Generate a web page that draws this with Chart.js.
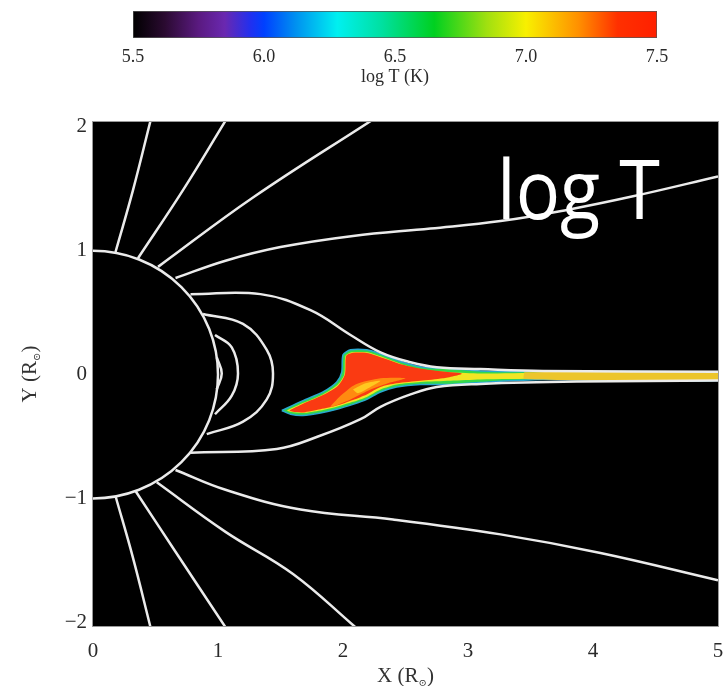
<!DOCTYPE html>
<html>
<head>
<meta charset="utf-8">
<script src="https://cdn.jsdelivr.net/npm/chart.js@4.4.0/dist/chart.umd.min.js"></script>
<style>
    html, body { margin: 0; padding: 0; background: #fff; }
    #wrap { position: relative; width: 723px; height: 686px; }
    #mapa { position: absolute; left: 0; top: 0; }
    #barra { position: absolute; left: 0; top: 0; }
</style>
</head>
<body>
<div id="wrap">
    <canvas id="mapa" width="723" height="686"></canvas>
    <canvas id="barra" width="723" height="100"></canvas>
</div>
<script>
// eixos
var ticksX = [0, 1, 2, 3, 4, 5];
var ticksY = [-2, -1, 0, 1, 2];
var raioSol = 1;

// escala de cor (log T)
var ticksEscala = [5.5, 6.0, 6.5, 7.0, 7.5];
var valoresEscala = [5.5, 5.62, 5.75, 5.85, 5.95, 6.0, 6.12, 6.28, 6.45, 6.65, 6.85, 7.0, 7.2, 7.35, 7.5];
var coresEscala = ["#000000", "#2a0a30", "#5a1a80", "#6a28b0", "#2030f0", "#0040ff", "#0090f0", "#00f0f0",
                   "#00e0a0", "#00d020", "#a0e010", "#f8f000", "#ff9000", "#ff3000", "#ff2000"];

// linhas de campo abertas (acima)
var linhaA = [[0.18, 0.99], [0.32, 1.49], [0.46, 2.05]];
var linhaB = [[0.36, 0.94], [0.72, 1.49], [1.06, 2.05]];
var linhaC = [[0.52, 0.87], [1.28, 1.43], [2.24, 2.06]];
var linhaD = [[0.66, 0.78], [1.06, 0.92], [1.50, 1.03], [2.08, 1.12], [2.70, 1.18], [3.26, 1.24], [3.79, 1.33], [4.32, 1.44], [5.0, 1.60]];
// linhas de campo abertas (abaixo)
var linhaA2 = [[0.18, -0.98], [0.32, -1.48], [0.46, -2.04]];
var linhaB2 = [[0.34, -0.94], [0.66, -1.43], [1.06, -2.04]];
var linhaC2 = [[0.51, -0.87], [1.06, -1.27], [1.60, -1.61], [2.10, -2.04]];
var linhaD2 = [[0.66, -0.77], [1.06, -0.93], [1.66, -1.09], [2.40, -1.17], [3.26, -1.29], [4.06, -1.44], [5.0, -1.66]];
// bordas do streamer
var linhaE = [[0.78, 0.65], [1.34, 0.65], [1.74, 0.52], [2.06, 0.32], [2.30, 0.18], [2.54, 0.10], [2.75, 0.06], [3.10, 0.045], [3.60, 0.03], [5.0, 0.024]];
var linhaF = [[0.78, -0.63], [1.47, -0.60], [1.80, -0.50], [2.14, -0.36], [2.30, -0.26], [2.54, -0.16], [2.75, -0.10], [3.10, -0.075], [3.87, -0.056], [5.0, -0.048]];
// arcos fechados
var arco1 = [[0.88, 0.49], [1.20, 0.41], [1.39, 0.20], [1.44, 0.01], [1.39, -0.20], [1.20, -0.38], [0.91, -0.48]];
var arco2 = [[0.976, 0.32], [1.11, 0.22], [1.16, 0.01], [1.11, -0.17], [0.976, -0.32]];
var arco3 = [[0.99, 0.14], [1.03, 0.01], [0.99, -0.12]];

// regiao quente
var bordaVerde = [[1.51, -0.29], [1.68, -0.21], [1.84, -0.14], [1.95, -0.06], [1.99, 0.02], [2.0, 0.16], [2.06, 0.20], [2.19, 0.20],
                  [2.32, 0.16], [2.48, 0.10], [2.64, 0.06], [2.86, 0.05], [3.10, 0.03], [3.60, 0.024], [5.0, 0.016],
                  [5.0, -0.048], [3.60, -0.04], [3.10, -0.063], [2.86, -0.08], [2.62, -0.08], [2.43, -0.10], [2.30, -0.14],
                  [2.19, -0.20], [2.08, -0.24], [1.95, -0.28], [1.82, -0.31], [1.68, -0.33], [1.58, -0.32], [1.51, -0.29]];
var miolоAmarelo = [[1.55, -0.29], [1.68, -0.23], [1.84, -0.16], [1.96, -0.08], [2.01, 0.0], [2.02, 0.15], [2.07, 0.18], [2.19, 0.18],
                    [2.32, 0.14], [2.48, 0.08], [2.64, 0.04], [2.86, 0.02], [3.10, 0.01], [3.60, 0.016], [5.0, 0.012],
                    [5.0, -0.044], [3.60, -0.034], [3.10, -0.04], [2.86, -0.05], [2.62, -0.06], [2.43, -0.08], [2.30, -0.12],
                    [2.19, -0.18], [2.08, -0.22], [1.95, -0.26], [1.82, -0.29], [1.68, -0.31], [1.58, -0.30], [1.55, -0.29]];
var caudaDourada = [[3.45, 0.02], [5.0, 0.014], [5.0, -0.045], [3.45, -0.036], [3.45, 0.02]];
var nucleoVermelho = [[1.57, -0.29], [1.68, -0.235], [1.84, -0.165], [1.96, -0.09], [2.015, 0.0], [2.025, 0.15], [2.07, 0.175],
                      [2.19, 0.175], [2.32, 0.135], [2.48, 0.08], [2.64, 0.045], [2.80, 0.025], [2.95, 0.008], [2.80, -0.03],
                      [2.62, -0.05], [2.43, -0.07], [2.30, -0.10], [2.19, -0.16], [2.08, -0.205], [1.95, -0.25],
                      [1.82, -0.28], [1.68, -0.305], [1.60, -0.30], [1.57, -0.29]];
var manchaLaranja = [[1.98, -0.17], [2.10, -0.08], [2.30, -0.03], [2.50, -0.03], [2.36, -0.07], [2.20, -0.13], [2.06, -0.20], [1.90, -0.26], [1.98, -0.17]];
var manchaAmarela = [[2.08, -0.12], [2.18, -0.07], [2.30, -0.05], [2.22, -0.10], [2.12, -0.15], [2.08, -0.12]];

function pontos(lista) {
    var saida = [];
    for (var i = 0; i < lista.length; i++) {
        saida.push({ x: lista[i][0], y: lista[i][1] });
    }
    return saida;
}

function linhaCampo(lista) {
    return {
        data: pontos(lista),
        showLine: true,
        pointRadius: 0,
        borderColor: "#ebebeb",
        borderWidth: 2.5,
        tension: 0.4,
        fill: false,
        order: 0
    };
}

function mancha(lista, cor, borda, largura, ordem) {
    return {
        data: pontos(lista),
        showLine: true,
        pointRadius: 0,
        borderColor: borda,
        borderWidth: largura,
        backgroundColor: cor,
        tension: 0.25,
        fill: "shape",
        order: ordem
    };
}

var fonteSerif = "'Liberation Serif', 'DejaVu Serif', serif";

function escreverTituloEixo(ctx, texto, x, y, girar) {
    ctx.save();
    ctx.translate(x, y);
    if (girar) ctx.rotate(-Math.PI / 2);
    ctx.fillStyle = "#333";
    ctx.textBaseline = "alphabetic";
    ctx.font = "21px " + fonteSerif;
    var w1 = ctx.measureText(texto).width;
    ctx.font = "10px " + fonteSerif;
    var w2 = ctx.measureText("\u2299").width;
    ctx.font = "21px " + fonteSerif;
    var w3 = ctx.measureText(")").width;
    var inicio = -(w1 + w2 + w3) / 2;
    ctx.textAlign = "left";
    ctx.fillText(texto, inicio, 0);
    ctx.font = "10px " + fonteSerif;
    ctx.fillText("\u2299", inicio + w1, 4);
    ctx.font = "21px " + fonteSerif;
    ctx.fillText(")", inicio + w1 + w2, 0);
    ctx.restore();
}

var pluginFundo = {
    id: "fundo",
    beforeDatasetsDraw: function (chart) {
        var ctx = chart.ctx;
        var area = chart.chartArea;
        var sx = chart.scales.x;
        var sy = chart.scales.y;
        ctx.save();
        ctx.fillStyle = "#000";
        ctx.fillRect(area.left, area.top, area.right - area.left, area.bottom - area.top);
        ctx.beginPath();
        ctx.rect(area.left, area.top, area.right - area.left, area.bottom - area.top);
        ctx.clip();
        var cx = sx.getPixelForValue(0);
        var cy = sy.getPixelForValue(0);
        var rx = sx.getPixelForValue(raioSol) - cx;
        var ry = cy - sy.getPixelForValue(raioSol);
        ctx.beginPath();
        ctx.ellipse(cx, cy, rx, ry, 0, 0, Math.PI * 2);
        ctx.strokeStyle = "#ebebeb";
        ctx.lineWidth = 2.5;
        ctx.stroke();
        ctx.restore();
    },
    afterDraw: function (chart) {
        var ctx = chart.ctx;
        var area = chart.chartArea;
        ctx.save();
        ctx.strokeStyle = "#999";
        ctx.lineWidth = 1;
        ctx.strokeRect(area.left - 0.5, area.top - 0.5, area.right - area.left + 1, area.bottom - area.top + 1);

        // texto grande
        ctx.fillStyle = "#fff";
        ctx.font = "82px 'Open Sans', 'Noto Sans', sans-serif";
        ctx.textAlign = "left";
        ctx.textBaseline = "alphabetic";
        var larg = ctx.measureText("log T").width;
        ctx.translate(497, 219);
        ctx.scale(163 / larg, 1);
        ctx.fillText("log T", 0, 0);
        ctx.restore();

        escreverTituloEixo(ctx, "X (R", (area.left + area.right) / 2, 682, false);
        escreverTituloEixo(ctx, "Y (R", 36, (area.top + area.bottom) / 2, true);
    }
};

new Chart(document.getElementById("mapa"), {
    type: "scatter",
    data: {
        datasets: [
            linhaCampo(linhaA), linhaCampo(linhaB), linhaCampo(linhaC), linhaCampo(linhaD),
            linhaCampo(linhaA2), linhaCampo(linhaB2), linhaCampo(linhaC2), linhaCampo(linhaD2),
            linhaCampo(linhaE), linhaCampo(linhaF),
            linhaCampo(arco1), linhaCampo(arco2), linhaCampo(arco3),
            mancha(bordaVerde, "#34d84a", "#28a8d0", 1.5, 6),
            mancha(miolоAmarelo, "#f2e624", "#f2e624", 0, 5),
            mancha(caudaDourada, "#ecc52c", "#ecc52c", 0, 4),
            mancha(nucleoVermelho, "#fa3a12", "#fa3a12", 0, 3),
            mancha(manchaLaranja, "#ff8a10", "#ff8a10", 0, 2),
            mancha(manchaAmarela, "#ffc820", "#ffc820", 0, 1)
        ]
    },
    options: {
        responsive: false,
        animation: false,
        layout: { padding: { left: 0, top: 122, right: 5, bottom: 0 } },
        plugins: {
            legend: { display: false },
            tooltip: { enabled: false }
        },
        scales: {
            x: {
                type: "linear",
                min: 0,
                max: 5,
                afterBuildTicks: function (s) { s.ticks = ticksX.map(function (v) { return { value: v }; }); },
                afterFit: function (s) { s.height = 60; s.paddingLeft = 0; s.paddingRight = 0; },
                grid: { display: false, drawTicks: false },
                border: { display: false },
                ticks: {
                    padding: 13,
                    color: "#2a2a2a",
                    font: { family: fonteSerif, size: 21 },
                    maxRotation: 0,
                    autoSkip: false
                }
            },
            y: {
                type: "linear",
                min: -2.03,
                max: 2.04,
                afterBuildTicks: function (s) { s.ticks = ticksY.map(function (v) { return { value: v }; }); },
                afterFit: function (s) { s.width = 93; s.paddingTop = 0; s.paddingBottom = 0; },
                grid: { display: false, drawTicks: false },
                border: { display: false },
                ticks: {
                    padding: 6,
                    color: "#2a2a2a",
                    font: { family: fonteSerif, size: 21 },
                    autoSkip: false,
                    callback: function (v) { return v < 0 ? "\u2212" + Math.abs(v) : String(v); }
                }
            }
        }
    },
    plugins: [pluginFundo]
});

// barra de cores
new Chart(document.getElementById("barra"), {
    type: "bar",
    data: {
        labels: ["logT"],
        datasets: [{
            data: [[ticksEscala[0], ticksEscala[ticksEscala.length - 1]]],
            backgroundColor: function (c) {
                var chart = c.chart;
                if (!chart.chartArea) return "#000";
                var sx = chart.scales.x;
                var g = chart.ctx.createLinearGradient(sx.getPixelForValue(5.5), 0, sx.getPixelForValue(7.5), 0);
                for (var i = 0; i < valoresEscala.length; i++) {
                    g.addColorStop((valoresEscala[i] - 5.5) / 2, coresEscala[i]);
                }
                return g;
            },
            borderColor: "#555",
            borderWidth: 1,
            borderSkipped: false,
            barPercentage: 1,
            categoryPercentage: 1
        }]
    },
    options: {
        indexAxis: "y",
        responsive: false,
        animation: false,
        layout: { padding: { left: 133, right: 66, top: 11, bottom: 12 } },
        plugins: {
            legend: { display: false },
            tooltip: { enabled: false }
        },
        scales: {
            x: {
                type: "linear",
                min: 5.5,
                max: 7.5,
                afterBuildTicks: function (s) { s.ticks = ticksEscala.map(function (v) { return { value: v }; }); },
                afterFit: function (s) { s.height = 50; s.paddingLeft = 0; s.paddingRight = 0; },
                grid: { display: false, drawTicks: false },
                border: { display: false },
                ticks: {
                    padding: 10,
                    color: "#2a2a2a",
                    font: { family: fonteSerif, size: 18, lineHeight: 1 },
                    maxRotation: 0,
                    autoSkip: false,
                    callback: function (v) { return Number(v).toFixed(1); }
                },
                title: {
                    display: true,
                    text: "log T (K)",
                    color: "#2a2a2a",
                    padding: { top: 0, bottom: 0 },
                    font: { family: fonteSerif, size: 18 }
                }
            },
            y: { display: false }
        }
    }
});
</script>
</body>
</html>
